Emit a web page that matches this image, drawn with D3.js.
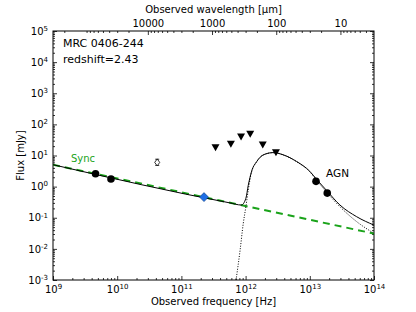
<!DOCTYPE html>
<html>
<head>
<meta charset="utf-8">
<script src="https://cdn.jsdelivr.net/npm/d3@7"></script>
<style>
  body { margin: 0; background: #fff; }
  text { font-family: "DejaVu Sans", sans-serif; fill: #000; }
</style>
</head>
<body>
<div id="chart"></div>
<script>
// detections (Hz, mJy)
var radioPts = [[4.6e9, 2.6], [8.0e9, 1.76]];
var openPt = [[4.2e10, 6.0, 4.8, 7.6]];     // nu, flux, low, high
var bluePt = [[2.25e11, 0.46]];
var upperLimits = [[3.4e11, 17.8], [5.9e11, 22.9], [8.5e11, 39], [1.18e12, 48], [1.85e12, 21.8], [2.97e12, 12.3]];
var agnPts = [[1.25e13, 1.48], [1.87e13, 0.62]];

// model curves
var syncLine = [[1e9, 5.06], [1e14, 0.031]];
var agnCurve = [[7.1e11, 0.001], [8.2e11, 0.0089], [9.2e11, 0.066], [1.01e12, 0.226], [1.10e12, 0.78],
  [1.24e12, 3.0], [1.49e12, 6.3], [1.89e12, 10.4], [2.7e12, 12.3], [3.86e12, 10.4], [6.25e12, 6.3],
  [1.0e13, 3.0], [1.28e13, 1.6], [1.83e13, 0.66], [2.95e13, 0.226], [5.37e13, 0.075], [1e14, 0.0315]];
var totalCurve = [[1e9, 5.06], [5.7e11, 0.30], [8.6e11, 0.256], [1.01e12, 0.42], [1.10e12, 1.1],
  [1.24e12, 3.1], [1.49e12, 6.4], [1.89e12, 10.5], [2.7e12, 12.4], [3.86e12, 10.5], [6.25e12, 6.4],
  [1.0e13, 3.1], [1.28e13, 1.7], [1.83e13, 0.75], [2.95e13, 0.256], [5.37e13, 0.108], [1e14, 0.058]];

var xTicks = [1e9, 1e10, 1e11, 1e12, 1e13, 1e14];
var yTicks = [1e-3, 1e-2, 1e-1, 1e0, 1e1, 1e2, 1e3, 1e4, 1e5];
var lamTicks = [10000, 1000, 100, 10];

var width = 416, height = 312;
var mLeft = 53, mRight = 374, mTop = 31, mBottom = 280;

var svg = d3.select('#chart').append('svg').attr('width', width).attr('height', height);

var x = d3.scaleLog().domain([1e9, 1e14]).range([mLeft, mRight]);
var y = d3.scaleLog().domain([1e-3, 1e5]).range([mBottom, mTop]);
// wavelength in micron
var xl = d3.scaleLog().domain([3e14 / 1e9, 3e14 / 1e14]).range([mLeft, mRight]);

function minors(lo, hi) {
  var out = [];
  for (var e = Math.floor(Math.log10(lo)); e <= Math.ceil(Math.log10(hi)); e++) {
    for (var k = 2; k <= 9; k++) {
      var v = k * Math.pow(10, e);
      if (v > Math.min(lo, hi) && v < Math.max(lo, hi)) out.push(v);
    }
  }
  return out;
}

function supLabel(sel) {
  sel.each(function (d) {
    var t = d3.select(this);
    t.text(null);
    t.append('tspan').text('10');
    t.append('tspan').attr('dy', '-0.55em').attr('font-size', '7px').text(Math.round(Math.log10(d)));
  });
}

function styleAxis(g) {
  g.select('.domain').remove();
  g.selectAll('line').attr('stroke', '#000').attr('stroke-width', 0.8);
  g.selectAll('text').attr('font-size', '10px').attr('font-family', '"DejaVu Sans", sans-serif');
}

// bottom axis
var gb = svg.append('g').attr('transform', 'translate(0,' + mBottom + ')')
  .call(d3.axisBottom(x).tickValues(xTicks).tickSize(-4).tickPadding(6));
styleAxis(gb);
gb.selectAll('text').call(supLabel);
svg.append('g').attr('transform', 'translate(0,' + mBottom + ')')
  .call(d3.axisBottom(x).tickValues(minors(1e9, 1e14)).tickSize(-2).tickFormat(''))
  .call(styleAxis);

// left / right axis
var gl = svg.append('g').attr('transform', 'translate(' + mLeft + ',0)')
  .call(d3.axisLeft(y).tickValues(yTicks).tickSize(-4).tickPadding(5));
styleAxis(gl);
gl.selectAll('text').call(supLabel);
svg.append('g').attr('transform', 'translate(' + mLeft + ',0)')
  .call(d3.axisLeft(y).tickValues(minors(1e-3, 1e5)).tickSize(-2).tickFormat('')).call(styleAxis);
svg.append('g').attr('transform', 'translate(' + mRight + ',0)')
  .call(d3.axisRight(y).tickValues(yTicks).tickSize(-4).tickFormat('')).call(styleAxis);
svg.append('g').attr('transform', 'translate(' + mRight + ',0)')
  .call(d3.axisRight(y).tickValues(minors(1e-3, 1e5)).tickSize(-2).tickFormat('')).call(styleAxis);

// top axis (wavelength)
var gt = svg.append('g').attr('transform', 'translate(0,' + mTop + ')')
  .call(d3.axisTop(xl).tickValues(lamTicks).tickSize(-4).tickPadding(4).tickFormat(d3.format('d')));
styleAxis(gt);
svg.append('g').attr('transform', 'translate(0,' + mTop + ')')
  .call(d3.axisTop(xl).tickValues(minors(3, 3e5)).tickSize(-2).tickFormat('')).call(styleAxis);

// frame
svg.append('rect').attr('x', mLeft).attr('y', mTop).attr('width', mRight - mLeft).attr('height', mBottom - mTop)
  .attr('fill', 'none').attr('stroke', '#000').attr('stroke-width', 1);

// axis titles
svg.append('text').attr('x', (mLeft + mRight) / 2).attr('y', 305).attr('text-anchor', 'middle')
  .attr('font-size', '10px').text('Observed frequency [Hz]');
svg.append('text').attr('x', (mLeft + mRight) / 2).attr('y', 13).attr('text-anchor', 'middle')
  .attr('font-size', '10px').text('Observed wavelength [\u03bcm]');
svg.append('text').attr('transform', 'translate(24,' + ((mTop + mBottom) / 2) + ') rotate(-90)')
  .attr('text-anchor', 'middle').attr('font-size', '10px').text('Flux [mJy]');

// curves
svg.append('clipPath').attr('id', 'clip').append('rect')
  .attr('x', mLeft).attr('y', mTop).attr('width', mRight - mLeft).attr('height', mBottom - mTop);
var plot = svg.append('g').attr('clip-path', 'url(#clip)');

var line = d3.line().x(function (d) { return x(d[0]); }).y(function (d) { return y(d[1]); })
  .curve(d3.curveMonotoneX);

plot.append('path').datum(syncLine).attr('d', line).attr('fill', 'none')
  .attr('stroke', '#1aa31a').attr('stroke-width', 2).attr('stroke-dasharray', '7,5');
plot.append('path').datum(agnCurve).attr('d', line).attr('fill', 'none')
  .attr('stroke', '#000').attr('stroke-width', 1).attr('stroke-dasharray', '1,1.6');
plot.append('path').datum(totalCurve).attr('d', line).attr('fill', 'none')
  .attr('stroke', '#000').attr('stroke-width', 1);

// markers
plot.selectAll('.ul').data(upperLimits).enter().append('path')
  .attr('transform', function (d) { return 'translate(' + x(d[0]) + ',' + y(d[1]) + ')'; })
  .attr('d', 'M-4,-3.5L4,-3.5L0,3.5Z').attr('fill', '#000');

plot.selectAll('.err').data(openPt).enter().append('path')
  .attr('d', function (d) {
    var cx = x(d[0]), lo = y(d[2]), hi = y(d[3]);
    return 'M' + cx + ',' + lo + 'V' + hi + 'M' + (cx - 2) + ',' + lo + 'H' + (cx + 2) + 'M' + (cx - 2) + ',' + hi + 'H' + (cx + 2);
  })
  .attr('stroke', '#000').attr('stroke-width', 0.8);
plot.selectAll('.open').data(openPt).enter().append('path')
  .attr('transform', function (d) { return 'translate(' + x(d[0]) + ',' + y(d[1]) + ')'; })
  .attr('d', 'M0,-3.5L2.5,0L0,3.5L-2.5,0Z').attr('fill', '#fff').attr('stroke', '#000').attr('stroke-width', 0.8);

plot.selectAll('.pt').data(radioPts.concat(agnPts)).enter().append('circle')
  .attr('cx', function (d) { return x(d[0]); }).attr('cy', function (d) { return y(d[1]); })
  .attr('r', 3.8).attr('fill', '#000');

plot.selectAll('.blue').data(bluePt).enter().append('path')
  .attr('transform', function (d) { return 'translate(' + x(d[0]) + ',' + y(d[1]) + ')'; })
  .attr('d', 'M0,-4.5L4.5,0L0,4.5L-4.5,0Z').attr('fill', '#1e6fe6').attr('stroke', '#0b3a80').attr('stroke-width', 0.6);

// annotations
svg.append('text').attr('x', 63).attr('y', 47).attr('font-size', '11px').text('MRC 0406-244');
svg.append('text').attr('x', 63).attr('y', 63).attr('font-size', '11px').text('redshift=2.43');
svg.append('text').attr('x', 71).attr('y', 162).attr('font-size', '10px').style('fill', '#1aa31a').text('Sync');
svg.append('text').attr('x', 326).attr('y', 177).attr('font-size', '10.5px').text('AGN');
</script>
</body>
</html>
